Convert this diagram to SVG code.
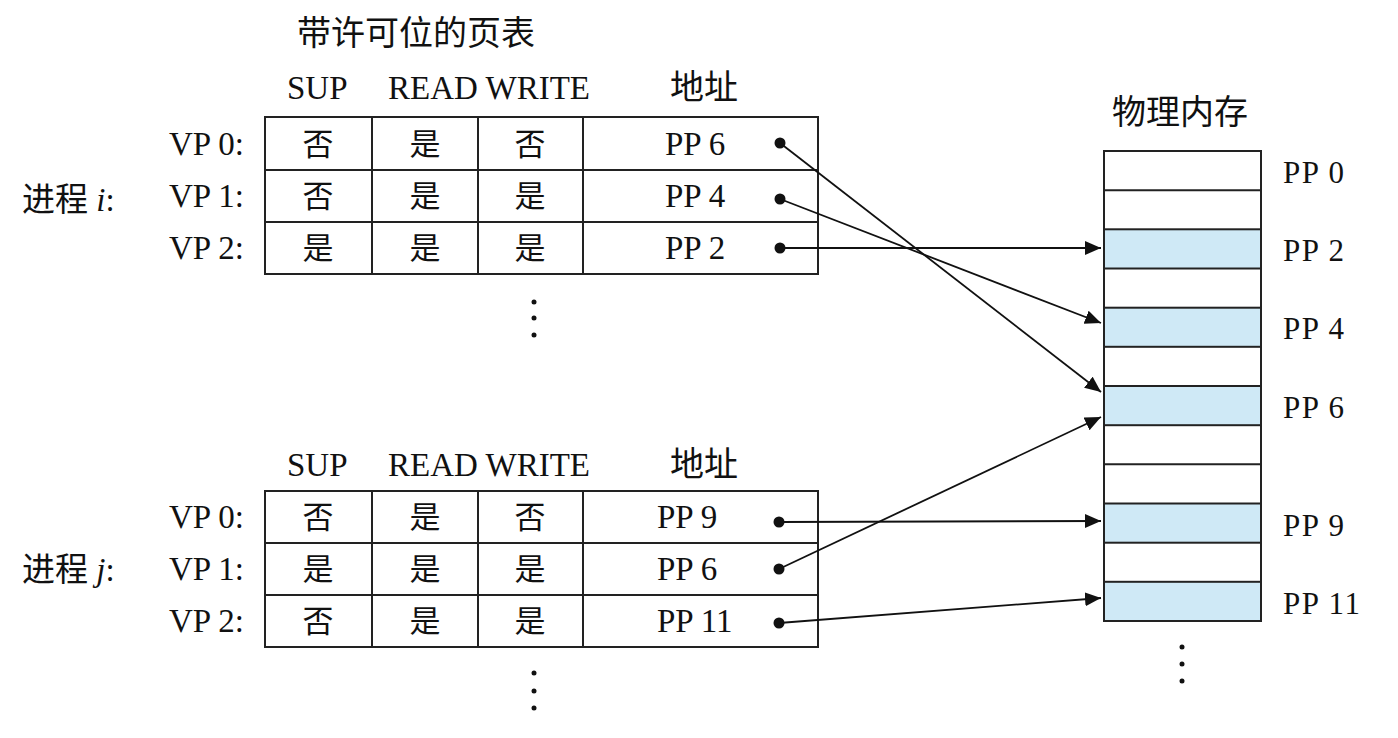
<svg xmlns="http://www.w3.org/2000/svg" width="1398" height="738" viewBox="0 0 1398 738">
<style>
.t{font-family:"Liberation Serif","Noto Sans CJK SC",serif;font-size:33px;fill:#111}
.c{font-family:"Liberation Serif","Noto Sans CJK SC",serif;font-size:31px;fill:#111;text-anchor:middle}
.h{font-family:"Liberation Serif","Noto Sans CJK SC",serif;font-size:34px;fill:#111}
.m{font-family:"Liberation Serif",serif;font-size:31px;fill:#111;letter-spacing:1.5px}
.box{fill:#fff;stroke:#222;stroke-width:2}
.ln{stroke:#222;stroke-width:2;fill:none}
.blue{fill:#cfe9f6;stroke:#222;stroke-width:2}
.con{stroke:#111;stroke-width:1.8;fill:none;marker-end:url(#ah)}
.dot{fill:#111}
</style>
<defs>
<marker id="ah" markerUnits="userSpaceOnUse" markerWidth="18" markerHeight="16" refX="16" refY="7" orient="auto">
<path d="M0,0 L16,7 L0,14 z" fill="#111"/>
</marker>
</defs>
<rect width="1398" height="738" fill="#fff"/>

<g id="title">
<text class="h" x="297" y="45">带许可位的页表</text>
</g>

<g id="table-i">
<text class="t" x="287" y="99">SUP</text>
<text class="t" x="388" y="99">READ WRITE</text>
<text class="h" x="670" y="99">地址</text>
<rect class="box" x="265" y="117" width="553" height="157"/>
<line class="ln" x1="265" y1="170" x2="818" y2="170"/>
<line class="ln" x1="265" y1="222" x2="818" y2="222"/>
<line class="ln" x1="372" y1="117" x2="372" y2="274"/>
<line class="ln" x1="478" y1="117" x2="478" y2="274"/>
<line class="ln" x1="583" y1="117" x2="583" y2="274"/>
<text class="t" x="22" y="211">进程 <tspan font-style="italic">i</tspan>:</text>
<text class="t" x="169" y="155">VP 0:</text>
<text class="t" x="169" y="207">VP 1:</text>
<text class="t" x="169" y="259">VP 2:</text>
<text class="c" x="318" y="155">否</text><text class="c" x="425" y="155">是</text><text class="c" x="530" y="155">否</text>
<text class="c" x="318" y="207">否</text><text class="c" x="425" y="207">是</text><text class="c" x="530" y="207">是</text>
<text class="c" x="318" y="259">是</text><text class="c" x="425" y="259">是</text><text class="c" x="530" y="259">是</text>
<text class="t" x="665" y="155">PP 6</text>
<text class="t" x="665" y="207">PP 4</text>
<text class="t" x="665" y="259">PP 2</text>
<circle class="dot" cx="534" cy="302" r="2.5"/>
<circle class="dot" cx="534" cy="318" r="2.5"/>
<circle class="dot" cx="534" cy="335" r="2.5"/>
</g>

<g id="table-j">
<text class="t" x="287" y="476">SUP</text>
<text class="t" x="388" y="476">READ WRITE</text>
<text class="h" x="670" y="476">地址</text>
<rect class="box" x="265" y="491" width="553" height="156"/>
<line class="ln" x1="265" y1="543" x2="818" y2="543"/>
<line class="ln" x1="265" y1="595" x2="818" y2="595"/>
<line class="ln" x1="372" y1="491" x2="372" y2="647"/>
<line class="ln" x1="478" y1="491" x2="478" y2="647"/>
<line class="ln" x1="583" y1="491" x2="583" y2="647"/>
<text class="t" x="22" y="581">进程 <tspan font-style="italic">j</tspan>:</text>
<text class="t" x="169" y="528">VP 0:</text>
<text class="t" x="169" y="580">VP 1:</text>
<text class="t" x="169" y="632">VP 2:</text>
<text class="c" x="318" y="528">否</text><text class="c" x="425" y="528">是</text><text class="c" x="530" y="528">否</text>
<text class="c" x="318" y="580">是</text><text class="c" x="425" y="580">是</text><text class="c" x="530" y="580">是</text>
<text class="c" x="318" y="632">否</text><text class="c" x="425" y="632">是</text><text class="c" x="530" y="632">是</text>
<text class="t" x="657" y="528">PP 9</text>
<text class="t" x="657" y="580">PP 6</text>
<text class="t" x="657" y="632">PP 11</text>
<circle class="dot" cx="534" cy="673" r="2.5"/>
<circle class="dot" cx="534" cy="691" r="2.5"/>
<circle class="dot" cx="534" cy="708" r="2.5"/>
</g>

<g id="memory">
<text class="h" x="1112" y="124">物理内存</text>
<rect class="box" x="1104" y="151" width="157" height="470"/>
<rect class="blue" x="1104" y="229.3" width="157" height="39.2"/>
<rect class="blue" x="1104" y="307.7" width="157" height="39.1"/>
<rect class="blue" x="1104" y="386" width="157" height="39.2"/>
<rect class="blue" x="1104" y="503.5" width="157" height="39.2"/>
<rect class="blue" x="1104" y="581.8" width="157" height="39.2"/>
<line class="ln" x1="1104" y1="190.2" x2="1261" y2="190.2"/>
<line class="ln" x1="1104" y1="464.3" x2="1261" y2="464.3"/>
<text class="m" x="1283" y="183">PP 0</text>
<text class="m" x="1283" y="261">PP 2</text>
<text class="m" x="1283" y="339">PP 4</text>
<text class="m" x="1283" y="418">PP 6</text>
<text class="m" x="1283" y="536">PP 9</text>
<text class="m" x="1283" y="614">PP 11</text>
<circle class="dot" cx="1182" cy="647" r="2.5"/>
<circle class="dot" cx="1182" cy="664" r="2.5"/>
<circle class="dot" cx="1182" cy="681" r="2.5"/>
</g>

<g id="connectors">
<circle class="dot" cx="780" cy="143" r="5.5"/>
<circle class="dot" cx="780" cy="199" r="5.5"/>
<circle class="dot" cx="780" cy="248" r="5.5"/>
<circle class="dot" cx="779" cy="522" r="5.5"/>
<circle class="dot" cx="779" cy="569" r="5.5"/>
<circle class="dot" cx="779" cy="623" r="5.5"/>
<line class="con" x1="780" y1="143" x2="1101" y2="392"/>
<line class="con" x1="780" y1="199" x2="1101" y2="323"/>
<line class="con" x1="780" y1="248" x2="1101" y2="248"/>
<line class="con" x1="779" y1="522" x2="1101" y2="521"/>
<line class="con" x1="779" y1="569" x2="1101" y2="417"/>
<line class="con" x1="779" y1="623" x2="1101" y2="598"/>
</g>
</svg>
